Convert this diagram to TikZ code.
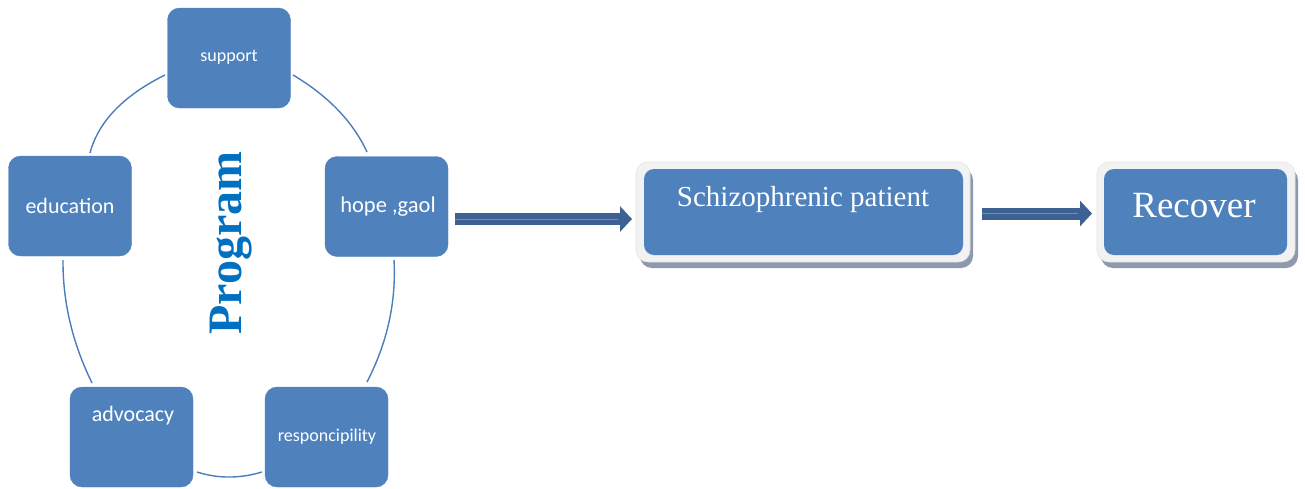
\documentclass[tikz,border=0pt]{standalone}
\usepackage{fontspec}
\setmainfont{Liberation Serif}
\newfontfamily\calib{Carlito}
\usetikzlibrary{arrows.meta,calc}
\definecolor{boxblue}{HTML}{4F81BD}
\definecolor{arcblue}{HTML}{4A7EBB}
\definecolor{arrblue}{HTML}{3C6192}
\definecolor{arrlight}{HTML}{6F8FBA}
\definecolor{progblue}{HTML}{0070C0}
\definecolor{framegrey}{HTML}{F2F2F2}
\definecolor{frameedge}{HTML}{E2E2E2}
\definecolor{shadowgrey}{HTML}{8D9AAE}
\tikzset{
  smallbox/.style={fill=boxblue, draw=boxblue, rounded corners=12pt, minimum width=123pt, minimum height=100pt, inner sep=0pt, text=white},
  arcline/.style={draw=arcblue, line width=1.4pt},
  frameshadow/.style={fill=shadowgrey, rounded corners=12pt},
  frameouter/.style={fill=framegrey, draw=frameedge, line width=0.6pt, rounded corners=12pt},
  innerbox/.style={fill=boxblue, rounded corners=10pt, inner sep=0pt, text=white},
  bigarrow/.style={draw=arrblue, line width=12pt, -{Triangle[length=12pt,width=25pt]}},
  arrowline/.style={draw=arrlight, line width=0.7pt}
}
\begin{document}
\begin{tikzpicture}[x=1pt,y=-1pt]
\useasboundingbox (0,0) rectangle (1305,488);
% small boxes
\node[smallbox] (support) at (229,58) {};
\node[smallbox] (educ) at (70,206) {};
\node[smallbox] (hope) at (386.5,206.5) {};
\node[smallbox] (advoc) at (131.5,437) {};
\node[smallbox] (respo) at (326.5,437) {};
\node[text=white, font=\calib\fontsize{18}{20}\selectfont] (supportt) at (229,57) {support};
\node[text=white, font=\calib\fontsize{22}{24}\selectfont] (educt) at (70,206) {education};
\node[text=white, font=\calib\fontsize{22.5}{24}\selectfont] (hopet) at (388,207) {hope ,gaol};
\node[text=white, font=\calib\fontsize{22}{24}\selectfont] (advoct) at (133,416) {advocacy};
\node[text=white, font=\calib\fontsize{18}{20}\selectfont] (respot) at (327,437) {responcipility};
% arc coordinates
\coordinate (e1) at (90,153);
\coordinate (s1) at (165,75);
\coordinate (s2) at (293,75);
\coordinate (h1) at (367,152);
\coordinate (h2) at (394,260);
\coordinate (r1) at (367,382);
\coordinate (r2) at (262,472);
\coordinate (a1) at (197,472);
\coordinate (a2) at (92,383);
\coordinate (e2) at (63,260);
\draw[arcline] (e1) .. controls (98.3,121.7) and (123.3,95.7) .. (s1);
\draw[arcline] (s2) .. controls (328.3,96) and (353,121.7) .. (h1);
\draw[arcline] (h2) .. controls (396.3,302) and (387.3,342.7) .. (r1);
\draw[arcline] (r2) .. controls (239.7,478.7) and (218,478.7) .. (a1);
\draw[arcline] (a2) .. controls (72.3,342.7) and (62.7,301.7) .. (e2);
% Program
\node[rotate=90, text=progblue, font=\bfseries\fontsize{48}{48}\selectfont] (prog) at (231,243) {Program};
% Schizophrenic patient box
\fill[frameshadow] (640,168) rectangle (973,268);
\draw[frameouter] (636,162) rectangle (970,262);
\node[innerbox, minimum width=319pt, minimum height=86pt] (schizo) at (803.5,212) {};
\node[text=white, font=\fontsize{29}{31}\selectfont] (schizot) at (803,200) {Schizophrenic patient};
% Recover box
\fill[frameshadow] (1101,168) rectangle (1298,268);
\draw[frameouter] (1097,162) rectangle (1295,262);
\node[innerbox, minimum width=183pt, minimum height=86pt] (recover) at (1195.5,212) {};
\node[text=white, font=\fontsize{37}{40}\selectfont] (recovert) at (1194,206) {Recover};
% arrows
\coordinate (p1s) at (455,219);
\coordinate (p1e) at (632,219);
\coordinate (p2s) at (982,213.5);
\coordinate (p2e) at (1092,213.5);
\draw[bigarrow] (p1s) -- (p1e);
\draw[arrowline] (p1s) -- ($(p1e)+(-14,0)$);
\draw[bigarrow] (p2s) -- (p2e);
\draw[arrowline] (p2s) -- ($(p2e)+(-14,0)$);
\end{tikzpicture}
\end{document}
